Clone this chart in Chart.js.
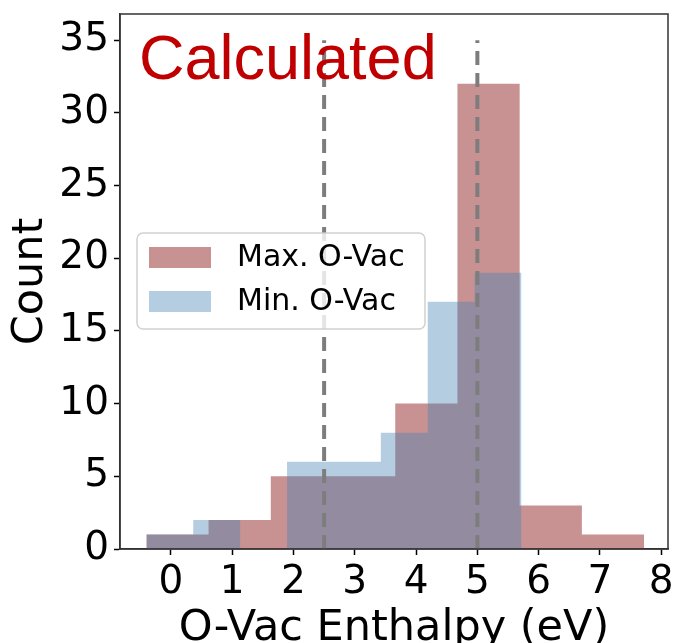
<!DOCTYPE html>
<html lang="en">
<head>
    <meta charset="UTF-8">
    <title>O-Vac Enthalpy Histogram</title>
    <style>
        body {
            margin: 0;
            background: white;
        }
        .wrap {
            width: 675px;
            height: 643px;
        }
    </style>
    <script src="https://cdn.jsdelivr.net/npm/chart.js"></script>
</head>
<body>
    <div class="wrap">
        <canvas id="histChart" width="675" height="643"></canvas>
    </div>

    <script>
        // bin edges and counts
        const maxEdges = [-0.40, 0.615, 1.63, 2.645, 3.66, 4.675, 5.69, 6.705, 7.72];
        const maxCounts = [1, 2, 5, 5, 10, 32, 3, 1];
        const minEdges = [-0.40, 0.365, 1.13, 1.895, 2.66, 3.425, 4.19, 4.955, 5.72];
        const minCounts = [1, 2, 0, 6, 6, 8, 17, 19];
        const markerLines = [2.5, 5];
        const markerTop = 35;
        const seriesLabels = ['Max. O-Vac', 'Min. O-Vac'];
        const yTicks = [0, 5, 10, 15, 20, 25, 30, 35];
        const xTicks = [0, 1, 2, 3, 4, 5, 6, 7, 8];

        const redFill = 'rgba(163, 73, 73, 0.6)';
        const blueFill = 'rgba(70, 130, 180, 0.4)';

        // histogram outline: one point per left edge, plus the last right edge
        function histPoints(edges, counts) {
            const pts = counts.map((c, i) => ({ x: edges[i], y: c }));
            pts.push({ x: edges[edges.length - 1], y: counts[counts.length - 1] });
            return pts;
        }

        function histDataset(label, edges, counts, color, order) {
            return {
                label: label,
                data: histPoints(edges, counts),
                showLine: true,
                stepped: 'before',
                fill: 'origin',
                backgroundColor: color,
                borderColor: 'transparent',
                borderWidth: 0,
                pointRadius: 0,
                order: order
            };
        }

        const vlineSets = markerLines.map(v => ({
            label: 'line ' + v,
            data: [{ x: v, y: 0 }, { x: v, y: markerTop }],
            showLine: true,
            fill: false,
            borderColor: 'rgb(125, 125, 125)',
            borderWidth: 4,
            borderDash: [14, 8],
            pointRadius: 0,
            order: 0
        }));

        const extras = {
            id: 'extras',
            afterDatasetsDraw(chart) {
                const { ctx, chartArea: a } = chart;
                ctx.save();
                ctx.strokeStyle = '#333';
                ctx.lineWidth = 1.5;
                ctx.strokeRect(a.left, a.top, a.right - a.left, a.bottom - a.top);
                ctx.restore();
            },
            afterDraw(chart) {
                const ctx = chart.ctx;
                ctx.save();

                // "Calculated" label
                ctx.fillStyle = '#C00000';
                ctx.font = '63px "Liberation Sans", Arial, sans-serif';
                ctx.textAlign = 'left';
                ctx.textBaseline = 'alphabetic';
                ctx.fillText('Calculated', 139, 79);

                // legend box inside the plot
                ctx.beginPath();
                ctx.roundRect(137, 233, 288, 96, 6);
                ctx.fillStyle = 'rgba(255, 255, 255, 0.8)';
                ctx.fill();
                ctx.strokeStyle = 'rgba(204, 204, 204, 0.9)';
                ctx.lineWidth = 1.5;
                ctx.stroke();

                const colors = [redFill, blueFill];
                const rowY = [247, 291];
                ctx.font = '30px "DejaVu Sans", sans-serif';
                ctx.textBaseline = 'middle';
                seriesLabels.forEach((lab, i) => {
                    ctx.fillStyle = colors[i];
                    ctx.fillRect(149, rowY[i], 62, 21);
                    ctx.fillStyle = '#000';
                    ctx.fillText(lab, 237, rowY[i] + 11);
                });
                ctx.restore();
            }
        };

        const tickFont = { family: 'DejaVu Sans', size: 39 };
        const titleFont = { family: 'DejaVu Sans', size: 43, lineHeight: 1 };

        new Chart(document.getElementById('histChart'), {
            type: 'scatter',
            data: {
                datasets: [
                    histDataset(seriesLabels[0], maxEdges, maxCounts, redFill, 2),
                    histDataset(seriesLabels[1], minEdges, minCounts, blueFill, 1),
                    ...vlineSets
                ]
            },
            options: {
                responsive: false,
                animation: false,
                layout: { padding: { left: 0, top: 14, right: 7, bottom: 0 } },
                plugins: {
                    legend: { display: false },
                    tooltip: { enabled: false }
                },
                scales: {
                    x: {
                        type: 'linear',
                        min: -0.83,
                        max: 8.11,
                        afterFit: s => {
                            s.height = 94;
                            s.paddingLeft = 0;
                            s.paddingRight = 0;
                        },
                        afterBuildTicks: s => { s.ticks = xTicks.map(v => ({ value: v })); },
                        ticks: {
                            font: tickFont,
                            color: '#000',
                            padding: 4,
                            maxRotation: 0,
                            autoSkip: false
                        },
                        grid: {
                            drawOnChartArea: false,
                            drawTicks: true,
                            tickLength: 6,
                            tickColor: '#000',
                            tickWidth: 1.5
                        },
                        border: { display: true, color: '#333', width: 1.5 },
                        title: {
                            display: true,
                            text: 'O-Vac Enthalpy (eV)',
                            font: titleFont,
                            color: '#000',
                            padding: { top: 0, bottom: -7 }
                        }
                    },
                    y: {
                        type: 'linear',
                        min: 0,
                        max: 36.8,
                        afterFit: s => {
                            s.width = 120;
                            s.paddingTop = 0;
                            s.paddingBottom = 0;
                        },
                        afterBuildTicks: s => { s.ticks = yTicks.map(v => ({ value: v })); },
                        ticks: {
                            font: tickFont,
                            color: '#000',
                            padding: 5,
                            autoSkip: false
                        },
                        grid: {
                            drawOnChartArea: false,
                            drawTicks: true,
                            tickLength: 6,
                            tickColor: '#000',
                            tickWidth: 1.5
                        },
                        border: { display: true, color: '#333', width: 1.5 },
                        title: {
                            display: true,
                            text: 'Count',
                            font: titleFont,
                            color: '#000',
                            padding: { top: 9, bottom: 0 }
                        }
                    }
                }
            },
            plugins: [extras]
        });
    </script>
</body>
</html>
